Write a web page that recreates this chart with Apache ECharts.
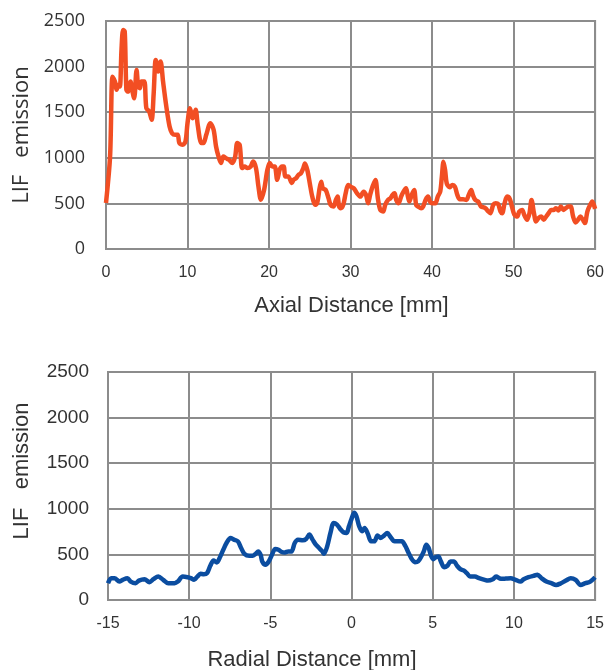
<!DOCTYPE html>
<html>
<head>
<meta charset="utf-8">
<script src="https://cdn.jsdelivr.net/npm/echarts@6/dist/echarts.min.js"></script>
<style>
html,body{margin:0;padding:0;background:#fff;}
#c{width:607px;height:670px;}
</style>
</head>
<body>
<div id="c"></div>
<script>
var axialX = [0,0.5,0.8,1.1,1.3,1.5,1.7,1.9,2.1,2.3,2.5,2.7,3.0,3.2,3.45,3.75,3.95,4.15,4.35,4.7,4.95,5.3,5.6,5.85,6.1,6.4,6.7,7.0,7.4,7.8,8.1,8.5,8.8,9.0,9.4,9.75,10.0,10.3,10.65,11.0,11.25,11.7,11.95,12.3,12.8,13.2,13.5,13.8,14.1,14.4,14.7,15.1,15.5,15.85,16.1,16.4,16.7,17.0,17.35,17.75,18.05,18.4,18.7,19.0,19.4,19.8,20.1,20.4,20.7,21.0,21.3,21.6,21.8,22.0,22.35,22.8,23.0,
  23.3,23.6,23.9,24.2,24.4,24.7,25.0,25.3,25.65,25.9,26.2,26.4,26.6,26.95,27.3,27.55,27.9,28.2,28.4,28.6,28.8,29.1,29.4,29.7,30.0,30.4,30.8,31.2,31.6,31.9,32.15,32.4,32.7,33.05,33.35,33.65,34.0,34.25,34.6,34.9,35.15,35.4,35.6,35.9,36.2,36.5,36.8,37.0,37.2,37.5,37.8,38.05,38.3,38.65,38.9,39.2,39.5,39.75,40.0,40.4,40.7,41.0,41.2,41.4,41.6,41.8,42.15,42.5,42.8,43.1,43.4,43.8,44.2,44.5,44.8,45.0,45.3,45.65,46.0,46.25,46.55,46.9,47.15,47.5,47.8,48.1,48.4,48.6,48.9,49.2,49.5,49.8,50.1,50.45,50.7,51.05,51.3,51.65,51.95,52.2,52.5,52.75,53.05,53.4,53.7,54.0,54.3,54.6,54.9,55.2,55.5,55.8,56.1,56.4,56.7,57.0,57.3,57.6,57.9,58.2,58.5,58.75,59.05,59.4,59.65,60.0];
var axialLIF = [504,1015,1890,1836,1745,1800,1781,2182,2401,2383,1745,1726,1836,1745,1653,1964,1781,1763,1836,1836,1544,1507,1416,1708,2073,1945,2055,1836,1562,1343,1270,1252,1252,1161,1142,1179,1380,1544,1434,1526,1361,1161,1161,1252,1380,1307,1124,1015,942,1015,996,978,942,1015,1161,1142,887,905,887,905,960,887,686,540,650,869,942,905,905,759,869,905,905,796,796,723,759,
  775,811,829,884,938,865,720,575,484,502,665,738,665,647,556,484,465,538,575,465,447,484,611,702,684,665,611,575,629,593,502,593,684,756,556,429,411,484,538,556,593,611,538,502,575,629,665,593,520,593,647,484,465,447,465,538,575,520,502,502,575,629,793,956,865,720,676,702,684,593,545,545,538,593,647,593,538,520,465,458,447,411,393,484,502,494,411,393,502,575,556,465,375,356,411,429,375,320,393,538,393,302,338,356,320,356,393,429,429,447,422,465,429,447,465,465,356,291,320,356,320,284,411,484,520,440];

var radialX = [-15,-14.8,-14.6,-14.3,-14.1,-13.8,-13.6,-13.3,-13.1,-12.75,-12.45,-12.2,-11.9,-11.6,-11.3,-10.9,-10.7,-10.4,-10.1,-9.9,-9.7,-9.5,-9.3,-9.1,-8.9,-8.7,-8.5,-8.3,-8.1,-7.9,-7.7,-7.45,-7.25,-7.0,-6.8,-6.6,-6.3,-6.1,-5.9,-5.75,-5.6,-5.5,-5.3,-5.1,-4.9,-4.7,-4.5,-4.3,-4.1,-3.9,-3.7,-3.5,-3.3,-3.0,-2.8,-2.6,-2.4,-2.2,-2.0,-1.8,-1.7,-1.5,-1.3,-1.1,-0.9,-0.7,-0.5,-0.3,-0.16,0,0.16,0.3,0.47,0.65,0.8,1.0,1.2,1.4,1.6,1.8,2.0,2.2,2.4,2.65,2.9,3.1,3.3,3.5,3.7,3.9,4.1,4.3,4.45,4.6,4.75,4.9,5.05,5.2,5.35,5.5,5.7,5.9,6.1,6.3,6.5,6.7,6.9,7.1,7.3,7.6,7.85,8.2,8.4,8.7,8.9,9.2,9.5,9.8,10.1,10.4,10.6,10.9,11.2,11.45,11.7,12.0,12.3,12.6,12.9,13.2,13.5,13.8,14.1,14.4,14.7,15.0];
var radialLIF = [184,239,239,202,221,239,202,184,213,228,195,228,257,221,184,184,202,257,250,239,221,257,287,283,294,375,434,412,471,551,625,680,662,643,570,507,485,485,507,533,496,423,386,423,496,559,551,526,522,533,533,625,662,654,669,717,662,607,570,533,507,588,735,845,827,779,743,735,809,890,956,919,809,754,790,728,643,643,706,680,706,735,691,643,643,643,596,522,452,415,423,478,533,607,570,485,448,471,478,423,360,375,423,423,375,338,324,294,257,257,239,221,213,228,257,232,235,239,221,202,228,250,265,276,239,202,184,165,184,213,239,221,165,184,202,250];

var yTicks = [0,500,1000,1500,2000,2500];
var axialTicks = [0,10,20,30,40,50,60];
var radialTicks = [-15,-10,-5,0,5,10,15];

function pairs(xs, ys){ var o=[]; for(var i=0;i<xs.length;i++){ o.push([xs[i], ys[i]]); } return o; }
function plain(v){ return String(v); }

var gridColor = '#8c8c8c';
var labelColor = '#333333';

var chart = echarts.init(document.getElementById('c'), null, {renderer:'canvas'});
chart.setOption({
  animation:false,
  backgroundColor:'#ffffff',
  grid:[
    {left:106, top:21, width:491, height:228, show:true, borderColor:gridColor, borderWidth:2, containLabel:false},
    {left:108, top:372, width:490, height:228, show:true, borderColor:gridColor, borderWidth:2, containLabel:false}
  ],
  xAxis:[
    {type:'value', gridIndex:0, min:axialTicks[0], max:axialTicks[axialTicks.length-1], interval:10,
     axisLine:{show:false}, axisTick:{show:false},
     splitLine:{show:true, lineStyle:{color:gridColor, width:2}},
     axisLabel:{color:labelColor, fontFamily:'Liberation Sans', fontSize:16, margin:16, formatter:plain}},
    {type:'value', gridIndex:1, min:radialTicks[0], max:radialTicks[radialTicks.length-1], interval:5,
     axisLine:{show:false}, axisTick:{show:false},
     splitLine:{show:true, lineStyle:{color:gridColor, width:2}},
     axisLabel:{color:labelColor, fontFamily:'Liberation Sans', fontSize:16, margin:16, formatter:plain}}
  ],
  yAxis:[
    {type:'value', gridIndex:0, min:yTicks[0], max:yTicks[yTicks.length-1], interval:500,
     axisLine:{show:false}, axisTick:{show:false},
     splitLine:{show:true, lineStyle:{color:gridColor, width:2}},
     axisLabel:{color:labelColor, fontFamily:'Open Sans', fontSize:18, margin:21, formatter:plain}},
    {type:'value', gridIndex:1, min:yTicks[0], max:yTicks[yTicks.length-1], interval:500,
     axisLine:{show:false}, axisTick:{show:false},
     splitLine:{show:true, lineStyle:{color:gridColor, width:2}},
     axisLabel:{color:labelColor, fontFamily:'Liberation Sans', fontSize:19, margin:19, formatter:plain}}
  ],
  series:[
    {type:'line', xAxisIndex:0, yAxisIndex:0, data:pairs(axialX, axialLIF), showSymbol:false, smooth:0.3,
     lineStyle:{color:'#F24E23', width:4.5}, itemStyle:{color:'#F24E23'}},
    {type:'line', xAxisIndex:1, yAxisIndex:1, data:pairs(radialX, radialLIF), showSymbol:false, smooth:0.3,
     lineStyle:{color:'#0B4DA0', width:4.5}, itemStyle:{color:'#0B4DA0'}}
  ],
  graphic:[
    {type:'text', position:[22,135], rotation:Math.PI/2, style:{text:'LIF   emission', fill:labelColor, font:'22px "Open Sans"', textAlign:'center', textVerticalAlign:'middle'}},
    {type:'text', position:[22,471], rotation:Math.PI/2, style:{text:'LIF   emission', fill:labelColor, font:'22px "Liberation Sans"', textAlign:'center', textVerticalAlign:'middle'}},
    {type:'text', position:[351.5,306], style:{text:'Axial Distance [mm]', fill:labelColor, font:'22px "Liberation Sans"', textAlign:'center', textVerticalAlign:'middle'}},
    {type:'text', position:[312,660], style:{text:'Radial Distance [mm]', fill:labelColor, font:'22px "Liberation Sans"', textAlign:'center', textVerticalAlign:'middle'}}
  ]
});
</script>
</body>
</html>
